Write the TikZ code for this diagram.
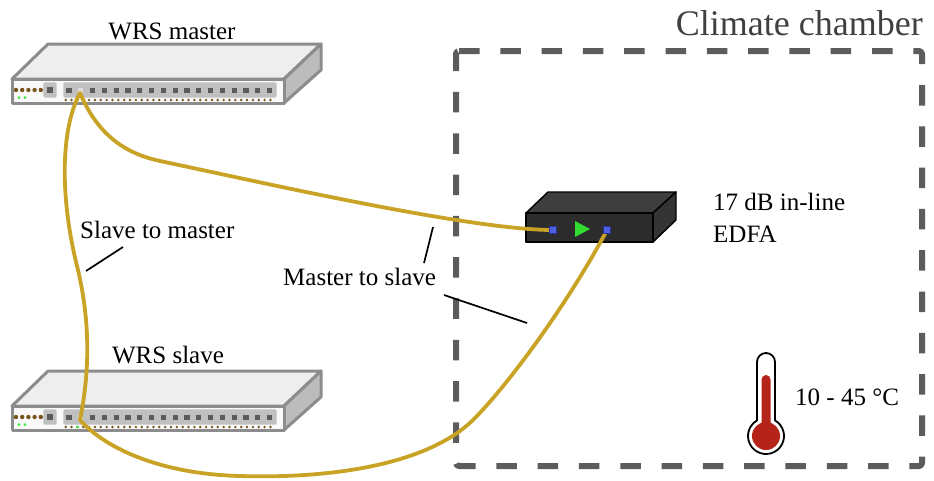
\documentclass[tikz,border=0pt]{standalone}
\usepackage{fontspec}
\setmainfont{Liberation Serif}
\definecolor{fibergold}{RGB}{201,163,38}
\definecolor{swline}{RGB}{140,140,140}
\definecolor{swtop}{RGB}{238,238,238}
\definecolor{swfront}{RGB}{249,249,249}
\definecolor{swside}{RGB}{188,188,188}
\definecolor{portbay}{RGB}{192,192,192}
\definecolor{portdark}{RGB}{92,92,92}
\definecolor{portlight}{RGB}{222,222,222}
\definecolor{ledbrown}{RGB}{118,84,28}
\definecolor{ledgreen}{RGB}{60,235,60}
\definecolor{chambergray}{RGB}{92,92,92}
\definecolor{titlegray}{RGB}{64,64,64}
\definecolor{edfafront}{RGB}{44,44,44}
\definecolor{edfatop}{RGB}{62,62,62}
\definecolor{edfaside}{RGB}{52,52,52}
\definecolor{portblue}{RGB}{80,96,225}
\definecolor{portblueedge}{RGB}{40,50,150}
\definecolor{ampgreen}{RGB}{50,220,50}
\definecolor{mercury}{RGB}{180,36,24}

% one rack switch; #1 = vertical offset, #2 = name prefix
\newcommand\wrsunit[2]{%
\begin{scope}[shift={(0,#1)}]
  \draw[swbody, fill=swtop] (12,79) -- (48,44) -- (321,44) -- (284,79) -- cycle;
  \draw[swbody, fill=swside] (284,79) -- (321,44) -- (321,70) -- (284,103) -- cycle;
  \draw[swbody, fill=swfront] (12,79) rectangle (284,103);
  % status LEDs
  \foreach \x in {16,22.2,28.4,34.6,40.8} \fill[ledbrown] (\x,90) circle (2.2);
  \foreach \x in {19,25} \fill[ledgreen] (\x,97.7) circle (1.5);
  % management port
  \fill[portbay, rounded corners=1.5] (43.3,82.3) rectangle (56.7,97.7);
  \fill[portdark] (47.4,87.4) rectangle (52.6,92.6);
  % SFP cage row
  \fill[portbay, rounded corners=1.5] (63.3,82.3) rectangle (276.7,97.7);
  \foreach \i in {0,...,17} \fill[portdark] ({69+11.8*\i-2.6},87.9) rectangle +(5.2,5.2);
  \fill[portlight] (78.2,87.9) rectangle +(5.2,5.2);
  % link LEDs
  \foreach \i in {0,...,35} \fill[ledbrown] ({65.7+5.85*\i},100) circle (1.35);
  \fill[ledgreen] (77.4,100) circle (1.5);
  \coordinate (#2port) at (80,93);
\end{scope}}

\begin{document}
\begin{tikzpicture}[x=1pt,y=-1pt, line join=round,
  swbody/.style={draw=swline, line width=3pt},
  fiber/.style={draw=fibergold, line width=3.8pt, line cap=round},
  leader/.style={draw=black, line width=1.7pt},
  lbl/.style={font=\fontsize{25}{29}\selectfont, inner sep=0pt, anchor=base},
  edfabody/.style={draw=black, line width=1.4pt},
  edfaport/.style={fill=portblue, draw=portblueedge, line width=0.6pt, minimum size=7pt, inner sep=0pt, rectangle}]

\useasboundingbox (0,0) rectangle (934,480);

% climate chamber boundary
\draw[chambergray, line width=6pt, dash pattern=on 20.5pt off 20.8pt, rounded corners=3pt]
  (456,51) -- (922,51) -- (922,466) -- (456,466) -- cycle;
\node[font=\fontsize{36}{40}\selectfont, text=titlegray, anchor=base east, inner sep=0pt] (ttitle) at (923,35) {Climate chamber};

% switches
\wrsunit{0}{m}
\wrsunit{327}{s}
\node[lbl] (tmaster) at (172,39) {WRS master};
\node[lbl] (tslave) at (168,363) {WRS slave};

% in-line amplifier
\draw[edfabody, fill=edfatop] (526,213) -- (548,192) -- (676,192) -- (653,213) -- cycle;
\draw[edfabody, fill=edfaside] (653,213) -- (676,192) -- (676,220) -- (653,242) -- cycle;
\draw[edfabody, fill=edfafront] (526,213) rectangle (653,242);
\fill[ampgreen] (575,221) -- (590,229) -- (575,237) -- cycle;
\coordinate (ein) at (553,230);
\coordinate (eout) at (607,230);
\node[lbl, anchor=base west] (tedfa1) at (713,210) {17 dB in-line};
\node[lbl, anchor=base west] (tedfa2) at (713,242) {EDFA};

% fibres
\draw[fiber] (mport) .. controls (95,128) and (118,152) .. (160,161)
  .. controls (260,182) and (470,230) .. (ein);
\draw[fiber] (mport) .. controls (60,130) and (60,200) .. (78,270)
  .. controls (92,330) and (88,380) .. (sport);
\draw[fiber] (sport) .. controls (105,448) and (160,474) .. (240,476)
  .. controls (340,479) and (430,462) .. (473,420)
  .. controls (510,383) and (570,300) .. (eout);

% amplifier connectors
\node[edfaport] (pin) at (ein) {};
\node[edfaport] (pout) at (eout) {};

% fibre labels
\node[lbl, anchor=base west] (tstm) at (80,238) {Slave to master};
\node[lbl, anchor=base west] (tmts) at (283,285) {Master to slave};
\coordinate (l1a) at (123,247); \coordinate (l1b) at (86,271);
\coordinate (l2a) at (424,263); \coordinate (l2b) at (433,227);
\coordinate (l3a) at (444,295); \coordinate (l3b) at (527,323);
\draw[leader] (l1a) -- (l1b);
\draw[leader] (l2a) -- (l2b);
\draw[leader] (l3a) -- (l3b);

% thermometer
\draw[black, line width=1.8pt, fill=white] (757,420.4) -- (757,362) arc (180:360:9)
  -- (775,420.4) arc (-60:240:18) -- cycle;
\fill[mercury] (761.5,436) -- (761.5,379.5) arc (180:360:4.5) -- (770.5,436) -- cycle;
\fill[mercury] (766,436) circle (14);
\node[lbl, anchor=base west] (ttemp) at (795,405) {10 - 45 °C};

\end{tikzpicture}
\end{document}
